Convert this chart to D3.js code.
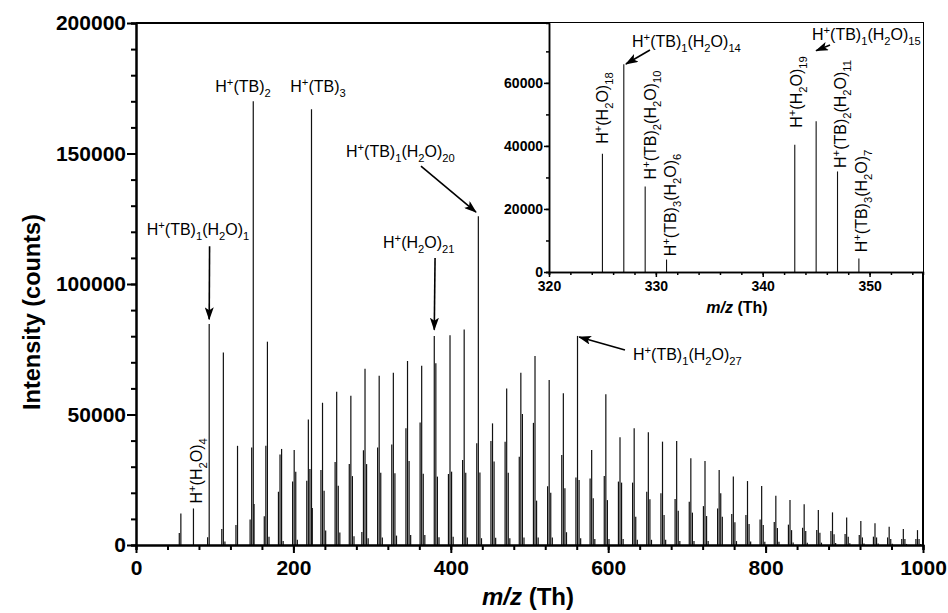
<!DOCTYPE html>
<html>
<head>
<meta charset="utf-8">
<script src="https://cdn.jsdelivr.net/npm/d3@7"></script>
<style>
  body { margin: 0; background: #fff; }
  svg { display: block; font-family: "Liberation Sans", Arial, Helvetica, sans-serif; }
</style>
</head>
<body>
<svg id="chart" width="948" height="613"></svg>
<script>
// water-cluster m/z of each group, H+(H2O)n with n = 3..55
var clusterMz = [55,73,91,109,127,145,163,181,199,217,235,253,271,289,307,325,343,361,379,397,
  415,433,451,469,487,505,523,541,559,577,595,613,631,649,667,685,703,721,739,757,
  775,793,811,829,847,865,883,901,919,937,955,973,991];

// H+(H2O)n at the cluster m/z
var hWater = [4600,14000,3000,6100,7700,9800,11000,20400,24300,24600,
  28700,31800,31000,36300,37400,38500,44700,46900,80100,27200,
  32600,39000,39800,39600,33800,46800,22500,34500,25900,25500,
  26400,24300,23900,20400,19800,17600,16600,14900,14000,11900,
  11500,9800,8800,7800,6600,5700,5400,4200,3800,3200,
  2900,2300,2300];
// H+(TB)1(H2O)n, cluster m/z + 2 (first one is the m/z 57 fragment)
var hTB1 = [12100,0,84700,73800,38000,37400,38000,34700,36400,48100,
  54500,58700,57200,67500,64800,66000,70500,68700,69600,80400,
  82600,126000,46600,60000,66000,72400,63200,58100,80100,36400,
  57800,41300,44700,43200,39600,39800,33200,32200,28700,26200,
  24500,22600,18900,17200,15600,13400,12500,10500,9200,8300,
  7000,6100,5700];
// H+(TB)2(H2O)n, cluster m/z + 4
var hTB2 = [0,0,0,1300,0,170000,77900,36800,28100,29100,
  20800,22700,26400,31000,27700,27500,32200,27300,26200,28100,
  27700,27800,32000,27700,50200,17000,20000,21700,24900,17900,
  17200,23900,10800,17500,11500,13100,12400,11100,19800,8700,
  8000,7700,6500,5700,5400,4700,4100,3200,2900,2900,
  2300,2300,2300];
// H+(TB)3(H2O)n, cluster m/z + 6
var hTB3 = [0,0,0,0,0,0,3200,1500,2000,167000,
  5600,4800,3400,2600,2900,3600,3800,3800,3000,3200,
  2900,2600,2800,2600,2900,2900,2900,4900,2600,2300,
  2300,2300,2000,2000,2000,1500,1500,1500,10800,1500,
  1300,1200,1200,1000,900,900,800,700,600,600,
  500,400,400];
// isotope / other small peaks
var extraMz = [150, 224, 287];
var extraH = [15700, 14200, 5000];

// inset spectrum
var insetMz = [325, 327, 329, 331, 343, 345, 347, 349];
var insetH = [37500, 65900, 27100, 3950, 40400, 47800, 31900, 4270];

var xTicks = [0, 200, 400, 600, 800, 1000];
var yTicks = [0, 50000, 100000, 150000, 200000];
var insetXTicks = [320, 330, 340, 350];
var insetYTicks = [0, 20000, 40000, 60000];

var svg = d3.select("#chart");
var fmt = d3.format("d");

var x = d3.scaleLinear().domain([0, 1000]).range([136, 923]);
var y = d3.scaleLinear().domain([0, 200000]).range([545, 23]);

var xi = d3.scaleLinear().domain([320, 355]).range([549, 923]);
var yi = d3.scaleLinear().domain([0, 79000]).range([272, 23]);

// arrowhead
svg.append("defs").append("marker")
    .attr("id", "arrow")
    .attr("markerUnits", "userSpaceOnUse")
    .attr("markerWidth", 13).attr("markerHeight", 9)
    .attr("refX", 12).attr("refY", 4.5)
    .attr("orient", "auto")
  .append("path")
    .attr("d", "M0,0 L13,4.5 L0,9 L3,4.5 Z")
    .attr("fill", "#000");

// collect peaks
var peaks = [];
clusterMz.forEach(function(m, i) {
  [hWater[i], hTB1[i], hTB2[i], hTB3[i]].forEach(function(h, k) {
    if (h > 0) peaks.push({ mz: m + 2 * k, h: h });
  });
});
extraMz.forEach(function(m, i) { peaks.push({ mz: m, h: extraH[i] }); });

svg.append("g").selectAll("line")
    .data(peaks)
  .enter().append("line")
    .attr("x1", function(d) { return x(d.mz); })
    .attr("x2", function(d) { return x(d.mz); })
    .attr("y1", y(0))
    .attr("y2", function(d) { return y(d.h); })
    .attr("stroke", "#111")
    .attr("stroke-width", 1.2);

// main axes
function styleAxis(g, w) {
  g.select(".domain").attr("stroke-width", w);
  g.selectAll(".tick line").attr("stroke-width", w);
}

var yMinor = svg.append("g")
    .attr("transform", "translate(136,0)")
    .call(d3.axisLeft(y).tickValues(d3.range(0, 200001, 10000)).tickSize(5).tickFormat(""));
styleAxis(yMinor, 2);
var yAxis = svg.append("g")
    .attr("transform", "translate(136,0)")
    .call(d3.axisLeft(y).tickValues(yTicks).tickSize(9).tickPadding(1).tickSizeOuter(0).tickFormat(fmt));
styleAxis(yAxis, 2);
yAxis.selectAll("text").attr("font-size", 21).attr("font-weight", "bold").attr("font-family", null);

var xMinor = svg.append("g")
    .attr("transform", "translate(0,545)")
    .call(d3.axisBottom(x).tickValues(d3.range(0, 1001, 40)).tickSize(5).tickFormat(""));
styleAxis(xMinor, 2);
var xAxis = svg.append("g")
    .attr("transform", "translate(0,545)")
    .call(d3.axisBottom(x).tickValues(xTicks).tickSize(8).tickPadding(7).tickSizeOuter(0).tickFormat(fmt));
styleAxis(xAxis, 2);
xAxis.selectAll("text").attr("font-size", 21).attr("font-weight", "bold").attr("font-family", null);

// frame top / right
svg.append("line").attr("x1", 136).attr("x2", 924).attr("y1", 23).attr("y2", 23)
    .attr("stroke", "#000").attr("stroke-width", 2);
svg.append("line").attr("x1", 923).attr("x2", 923).attr("y1", 22).attr("y2", 545)
    .attr("stroke", "#000").attr("stroke-width", 2);

// axis titles
var xt = svg.append("text")
    .attr("x", 528).attr("y", 605)
    .attr("text-anchor", "middle")
    .attr("font-size", 24).attr("font-weight", "bold");
xt.append("tspan").attr("font-style", "italic").text("m/z");
xt.append("tspan").text(" (Th)");

svg.append("text")
    .attr("transform", "translate(40,312) rotate(-90)")
    .attr("text-anchor", "middle")
    .attr("font-size", 23.5).attr("font-weight", "bold")
    .text("Intensity (counts)");

// chemical label with ^sup and _sub
function chem(parent, str, fs) {
  var t = parent.append("text").attr("font-size", fs);
  var tokens = str.match(/\^[^\s(]|_\d+|[^\^_]+/g);
  var off = 0;
  tokens.forEach(function(tok) {
    var type = tok[0] === "^" ? "sup" : tok[0] === "_" ? "sub" : "n";
    var txt = type === "n" ? tok : tok.slice(1);
    var target = type === "sup" ? -0.38 * fs : type === "sub" ? 0.3 * fs : 0;
    t.append("tspan")
        .attr("dy", target - off)
        .attr("font-size", type === "n" ? fs : fs * 0.7)
        .text(txt);
    off = target;
  });
  return t;
}

// main annotations [label, mz, value, anchor, rotated]
var mainLabels = [
  ["H^+(TB)_1(H_2O)_1", 78.8, 118800, "middle", false],
  ["H^+(TB)_2", 136, 173500, "middle", false],
  ["H^+(TB)_3", 231.3, 173500, "middle", false],
  ["H^+(TB)_1(H_2O)_20", 266.8, 148600, "start", false],
  ["H^+(H_2O)_21", 313.9, 113800, "start", false],
  ["H^+(TB)_1(H_2O)_27", 631.5, 70900, "start", false],
  ["H^+(H_2O)_4", 83.9, 28400, "middle", true]
];
mainLabels.forEach(function(d) {
  var t = chem(svg, d[0], 16).attr("text-anchor", d[3]);
  if (d[4]) t.attr("transform", "translate(" + x(d[1]) + "," + y(d[2]) + ") rotate(-90)");
  else t.attr("x", x(d[1])).attr("y", y(d[2]));
});

// arrows [mz0, v0, mz1, v1]
var mainArrows = [
  [93.5, 114500, 93, 86500],
  [362.1, 145200, 432, 127500],
  [380, 110000, 379, 82500],
  [621.3, 74700, 563, 79700]
];
svg.append("g").selectAll("line")
    .data(mainArrows)
  .enter().append("line")
    .attr("x1", function(d) { return x(d[0]); })
    .attr("y1", function(d) { return y(d[1]); })
    .attr("x2", function(d) { return x(d[2]); })
    .attr("y2", function(d) { return y(d[3]); })
    .attr("stroke", "#000").attr("stroke-width", 1.6)
    .attr("marker-end", "url(#arrow)");

// ---- inset ----
var inset = svg.append("g");
inset.append("rect")
    .attr("x", 549).attr("y", 23).attr("width", 374).attr("height", 249)
    .attr("fill", "#fff");

inset.append("g").selectAll("line")
    .data(insetMz)
  .enter().append("line")
    .attr("x1", function(d) { return xi(d); })
    .attr("x2", function(d) { return xi(d); })
    .attr("y1", yi(0))
    .attr("y2", function(d, i) { return yi(insetH[i]); })
    .attr("stroke", "#111")
    .attr("stroke-width", 1.1);

var iyMinor = inset.append("g")
    .attr("transform", "translate(549,0)")
    .call(d3.axisLeft(yi).tickValues(d3.range(0, 79001, 10000)).tickSize(3).tickFormat(""));
styleAxis(iyMinor, 1.5);
var iyAxis = inset.append("g")
    .attr("transform", "translate(549,0)")
    .call(d3.axisLeft(yi).tickValues(insetYTicks).tickSize(5).tickPadding(1).tickSizeOuter(0).tickFormat(fmt));
styleAxis(iyAxis, 1.5);
iyAxis.selectAll("text").attr("font-size", 14).attr("font-weight", "bold").attr("font-family", null);

var ixMinor = inset.append("g")
    .attr("transform", "translate(0,272)")
    .call(d3.axisBottom(xi).tickValues(d3.range(320, 355.1, 2)).tickSize(3).tickFormat(""));
styleAxis(ixMinor, 1.5);
var ixAxis = inset.append("g")
    .attr("transform", "translate(0,272)")
    .call(d3.axisBottom(xi).tickValues(insetXTicks).tickSize(5).tickPadding(4).tickSizeOuter(0).tickFormat(fmt));
styleAxis(ixAxis, 1.5);
ixAxis.selectAll("text").attr("font-size", 14).attr("font-weight", "bold").attr("font-family", null);

var ixt = inset.append("text")
    .attr("x", 737).attr("y", 313)
    .attr("text-anchor", "middle")
    .attr("font-size", 16).attr("font-weight", "bold");
ixt.append("tspan").attr("font-style", "italic").text("m/z");
ixt.append("tspan").text(" (Th)");

// inset annotations
var insetLabels = [
  ["H^+(H_2O)_18", 325.52, 52000, "middle", true],
  ["H^+(TB)_2(H_2O)_10", 330.01, 46640, "middle", true],
  ["H^+(TB)_3(H_2O)_6", 331.88, 21260, "middle", true],
  ["H^+(H_2O)_19", 343.68, 57100, "middle", true],
  ["H^+(TB)_2(H_2O)_11", 347.79, 50130, "middle", true],
  ["H^+(TB)_3(H_2O)_7", 349.76, 22530, "middle", true],
  ["H^+(TB)_1(H_2O)_14", 327.77, 71390, "start", false],
  ["H^+(TB)_1(H_2O)_15", 344.61, 73600, "start", false]
];
insetLabels.forEach(function(d) {
  var t = chem(inset, d[0], 16).attr("text-anchor", d[3]);
  if (d[4]) t.attr("transform", "translate(" + xi(d[1]) + "," + yi(d[2]) + ") rotate(-90)");
  else t.attr("x", xi(d[1])).attr("y", yi(d[2]));
});

var insetArrows = [
  [329.45, 70430, 327.2, 65990],
  [346.3, 72020, 345.0, 70200]
];
inset.append("g").selectAll("line")
    .data(insetArrows)
  .enter().append("line")
    .attr("x1", function(d) { return xi(d[0]); })
    .attr("y1", function(d) { return yi(d[1]); })
    .attr("x2", function(d) { return xi(d[2]); })
    .attr("y2", function(d) { return yi(d[3]); })
    .attr("stroke", "#000").attr("stroke-width", 1.6)
    .attr("marker-end", "url(#arrow)");
</script>
</body>
</html>
